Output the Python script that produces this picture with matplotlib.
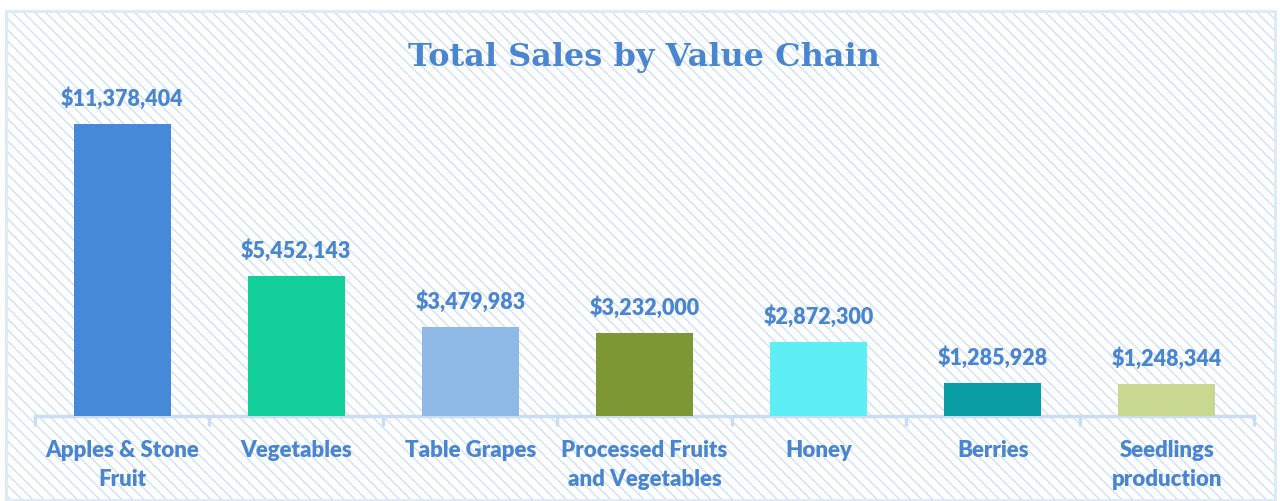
import matplotlib.pyplot as plt
from matplotlib.patches import Rectangle

# data
categories = ['Apples & Stone\nFruit', 'Vegetables', 'Table Grapes',
              'Processed Fruits\nand Vegetables', 'Honey', 'Berries',
              'Seedlings\nproduction']
sales = [11378404, 5452143, 3479983, 3232000, 2872300, 1285928, 1248344]
bar_colors = ['#4589D8', '#12CF9A', '#8EB8E5', '#7D9734', '#5DEFF3',
              '#0A9DA4', '#C8D891']

text_blue = '#4A86D0'
line_blue = '#CBDDF3'

fig = plt.figure(figsize=(12.8, 5.01), dpi=100)

# hatched background with a light frame
bg = Rectangle((6 / 1280, 1 / 501), 1269 / 1280, 489 / 501,
               transform=fig.transFigure, facecolor='white',
               edgecolor='#CFE0F6', hatch='\\\\\\', linewidth=0, zorder=0)
fig.patches.append(bg)
frame = Rectangle((6 / 1280, 1 / 501), 1269 / 1280, 489 / 501,
                  transform=fig.transFigure, facecolor='none',
                  edgecolor='#DDE9F8', linewidth=2, zorder=1)
fig.patches.append(frame)

ax = fig.add_axes([35 / 1280, 85 / 501, 1219 / 1280, 356 / 501])
ax.set_zorder(2)
ax.patch.set_alpha(0)

x = list(range(len(categories)))
ax.bar(x, sales, width=0.557, color=bar_colors, zorder=3)

for xi, v in zip(x, sales):
    ax.annotate('${:,}'.format(v), (xi, v), xytext=(0, 10),
                textcoords='offset points', ha='center', va='bottom',
                fontsize=15.5, fontweight='heavy', color=text_blue,
                family='Lato')

ax.set_xlim(-0.5, len(categories) - 0.5)
ax.set_ylim(0, 356 / 25.663 * 1e6)

ax.set_xticks(x)
ax.set_xticklabels(categories, fontsize=16, fontweight='heavy',
                   color=text_blue, family='Lato', linespacing=1.5)
ax.set_xticks([i - 0.5 for i in range(len(categories) + 1)], minor=True)
ax.tick_params(axis='x', which='major', length=0, pad=17)
ax.tick_params(axis='x', which='minor', length=7, width=2.5,
               color=line_blue, direction='out')
ax.set_yticks([])

for side in ['top', 'left', 'right']:
    ax.spines[side].set_visible(False)
ax.spines['bottom'].set_color(line_blue)
ax.spines['bottom'].set_linewidth(2.5)

fig.text(0.503, 0.885, 'Total Sales by Value Chain', ha='center',
         va='center', fontsize=23, fontweight='bold', color=text_blue,
         family='DejaVu Serif')

fig.savefig('out.png', dpi=100)
